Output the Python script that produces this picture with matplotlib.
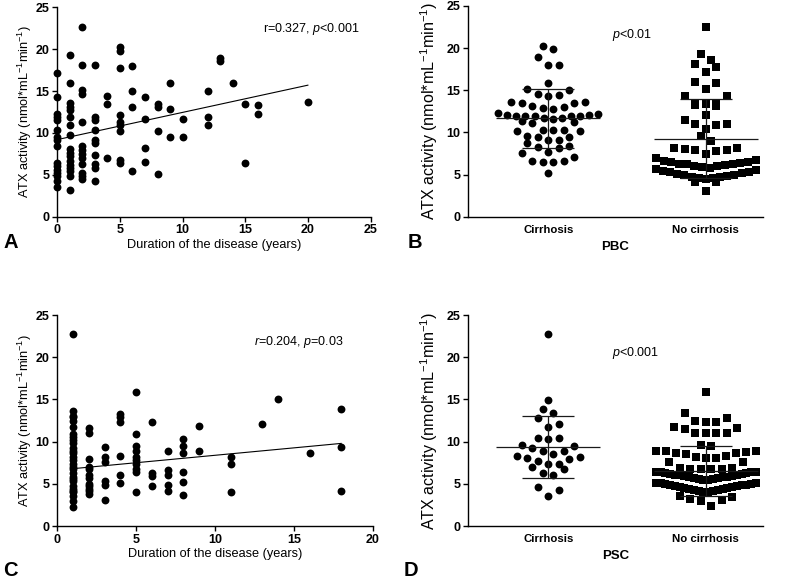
import matplotlib.pyplot as plt
import numpy as np

plt.rcParams['font.family'] = ['Liberation Sans', 'DejaVu Sans']
plt.rcParams['mathtext.fontset'] = 'custom'
plt.rcParams['mathtext.rm'] = 'Liberation Sans'
plt.rcParams['mathtext.it'] = 'Liberation Sans:italic'
plt.rcParams['mathtext.bf'] = 'Liberation Sans:bold'

# panel A: PBC, ATX activity vs duration of the disease
pbc_years = [0, 1, 2, 3, 4, 5, 6, 7, 8, 9, 10, 12, 13, 14, 15, 16, 20]
pbc_atx = [
    [17.2, 14.3, 12.2, 11.9, 11.5, 10.3, 9.55, 9.15, 8.45, 6.45, 6.05, 5.6, 5.2, 4.9, 4.2, 3.5],
    [19.3, 16.0, 13.6, 13.1, 12.7, 11.9, 10.9, 9.7, 8.1, 7.6, 7.2, 6.6, 6.2, 5.8, 5.4, 4.9, 3.2],
    [22.6, 18.1, 15.1, 14.6, 11.3, 8.4, 8.0, 7.5, 7.0, 6.25, 5.2, 4.8, 4.5],
    [18.1, 11.9, 11.6, 10.4, 9.2, 8.8, 7.4, 6.3, 5.8, 4.2],
    [14.4, 13.5, 7.0],
    [20.3, 19.8, 17.7, 12.1, 11.3, 10.9, 10.2, 6.8, 6.4],
    [18.0, 15.0, 13.1, 5.5],
    [14.3, 11.7, 8.2, 6.5],
    [13.5, 13.1, 10.2, 5.1],
    [15.9, 12.9, 9.5],
    [11.7, 9.5],
    [15.0, 11.9, 10.9],
    [19.0, 18.6],
    [15.9],
    [13.5, 6.4],
    [13.3, 12.3],
    [13.7],
]
pbc_fit = [9.2, 0.325]  # intercept, slope

# panel C: PSC, ATX activity vs duration of the disease
psc_years = [1, 2, 3, 4, 5, 6, 7, 8, 9, 11, 13, 14, 16, 18]
psc_atx = [
    [22.8, 13.6, 13.05, 12.9, 12.5, 11.7, 10.95, 10.55, 10.2, 9.85, 9.3, 8.9, 8.65, 8.2, 7.8,
     7.3, 7.0, 6.7, 6.3, 5.8, 5.6, 5.3, 4.8, 4.4, 4.2, 4.0, 3.6, 3.0, 2.2],
    [11.6, 11.0, 7.9, 7.0, 6.8, 6.0, 5.7, 5.0, 4.7, 4.4, 4.1, 3.8],
    [9.35, 8.2, 7.6, 5.3, 4.9, 3.1],
    [13.3, 12.9, 12.3, 8.25, 6.1, 5.1],
    [15.9, 10.9, 9.5, 8.9, 8.2, 7.8, 7.4, 6.8, 6.4, 4.0],
    [12.3, 6.3, 5.9, 4.7],
    [8.9, 6.6, 6.0, 4.9, 4.1],
    [10.3, 9.5, 8.6, 6.4, 5.2, 3.7],
    [11.9, 8.9],
    [8.2, 7.3, 4.0],
    [12.1],
    [15.0],
    [8.6],
    [13.9, 9.4, 4.2],
]
psc_fit = [6.62, 0.176]

# panel B: PBC, cirrhosis vs no cirrhosis
groups = ['Cirrhosis', 'No cirrhosis']
pbc_cirr = [5.2, 6.45, 6.5, 6.55, 6.6, 7.1, 7.6, 7.7, 8.2, 8.3, 8.4, 8.8, 9.1, 9.1, 9.5, 9.5,
            9.6, 10.2, 10.2, 10.3, 10.3, 10.3, 11.1, 11.2, 11.3, 11.6, 11.7, 11.7, 11.9, 12.0,
            12.0, 12.0, 12.0, 12.1, 12.1, 12.2, 12.3, 12.8, 12.9, 13.0, 13.1, 13.5, 13.5, 13.6,
            13.6, 14.3, 14.4, 14.6, 15.0, 15.1, 15.9, 18.0, 18.0, 18.9, 19.9, 20.3]
pbc_nocirr = [3.1, 4.1, 4.1, 4.45, 4.55, 4.6, 4.7, 4.75, 4.85, 4.9, 5.0, 5.05, 5.15, 5.25,
              5.35, 5.45, 5.55, 5.6, 5.8, 5.9, 6.0, 6.05, 6.1, 6.2, 6.25, 6.3, 6.35, 6.45,
              6.5, 6.65, 6.7, 6.95, 7.45, 7.85, 7.9, 7.95, 8.0, 8.1, 8.2, 8.95, 9.55, 10.35,
              10.9, 11.0, 11.0, 11.5, 12.1, 13.15, 13.2, 13.35, 13.4, 13.5, 14.3, 14.35,
              15.1, 15.9, 15.95, 17.2, 17.8, 18.1, 18.6, 19.3, 22.5]
pbc_mean = [11.65, 9.25]
pbc_sd = [3.55, 4.7]

# panel D: PSC, cirrhosis vs no cirrhosis
psc_cirr = [3.55, 4.3, 4.6, 6.1, 6.3, 6.7, 6.95, 7.3, 7.35, 7.7, 7.9, 8.1, 8.2, 8.3, 8.5,
            8.9, 8.9, 9.3, 9.5, 9.6, 10.3, 10.4, 10.4, 11.7, 12.1, 12.75, 13.4, 13.9, 14.9, 22.75]
psc_nocirr = [2.35, 2.95, 3.1, 3.2, 3.4, 3.5,
              4.0, 4.05, 4.12, 4.18, 4.22, 4.3, 4.36, 4.42, 4.5, 4.55, 4.6, 4.67, 4.7, 4.76,
              4.82, 4.85, 4.9, 4.96, 5.0, 5.05, 5.1, 5.15,
              5.45, 5.5, 5.54, 5.6, 5.66, 5.7, 5.75, 5.8, 5.86, 5.9, 5.95, 6.0, 6.04, 6.1,
              6.15, 6.2, 6.26, 6.3, 6.35, 6.4, 6.42, 6.45,
              6.7, 6.75, 6.8, 6.8, 6.85, 6.9, 7.55, 7.6,
              8.1, 8.1, 8.2, 8.3, 8.5, 8.65, 8.7, 8.8, 8.85, 8.9, 8.9,
              9.5, 9.65, 11.0, 11.0, 11.0, 11.0, 11.5, 11.65, 11.7,
              12.3, 12.3, 12.5, 12.8, 13.35, 15.85]
psc_mean = [9.35, 6.55]
psc_sd = [3.7, 2.95]

YLABEL = 'ATX activity (nmol*mL$^{-1}$min$^{-1}$)'


def style_axes(ax, ylabel_size, ylabel_pad):
    for side in ['top', 'right']:
        ax.spines[side].set_visible(False)
    for side in ['left', 'bottom']:
        ax.spines[side].set_linewidth(1.0)
    ax.set_ylim(0, 25)
    ax.set_yticks([0, 5, 10, 15, 20, 25])
    ax.tick_params(direction='out', length=3.5, width=1.0, labelsize=9, pad=2)
    ax.set_ylabel(YLABEL, fontsize=ylabel_size, labelpad=ylabel_pad)


def scatter_panel(ax, years, atx, fit, xmax, stat_text, pos):
    style_axes(ax, 9.2, 1.5)
    for yr, vals in zip(years, atx):
        ax.scatter([yr] * len(vals), vals, s=32, color='black', linewidths=0,
                   clip_on=False, zorder=3)
    xs = np.array([min(years), max(years)])
    ax.plot(xs, fit[0] + fit[1] * xs, color='black', lw=0.8, zorder=2)
    ax.set_xlim(0, xmax)
    ax.set_xticks(np.arange(0, xmax + 1, 5))
    ax.set_xlabel('Duration of the disease (years)', fontsize=9.2, labelpad=2)
    ax.text(pos[0], pos[1], stat_text, transform=ax.transAxes, fontsize=9, va='center')
    plt.setp(ax.get_xticklabels() + ax.get_yticklabels(), fontweight='bold')


def swarm(values, row_h, step_px, max_px):
    """simple row based dot layout, lowest values in the middle of a row"""
    vals = np.sort(np.asarray(values, float))
    offs = np.zeros(len(vals))
    i = 0
    while i < len(vals):
        j = i
        while j < len(vals) and vals[j] - vals[i] < row_h:
            j += 1
        n = j - i
        step = step_px if n < 2 else min(step_px, 2 * max_px / (n - 1))
        for k in range(n):
            if n % 2:
                slot = (k + 1) // 2 * (1 if k % 2 else -1)
            else:
                slot = (k // 2 + 0.5) * (1 if k % 2 == 0 else -1)
            offs[i + k] = slot * step
        i = j
    return vals, offs


def group_panel(fig, ax, series, mean, sd, xlabel, stat_text, pos):
    style_axes(ax, 11.6, 5)
    ax.set_xlim(-0.507, 1.36)
    px_per_unit = ax.get_position().width * fig.get_size_inches()[0] * fig.dpi / 1.867
    markers = ['o', 's']
    sizes = [32, 27]
    for i, vals in enumerate(series):
        yv, off = swarm(vals, 1.2, 10.5, 50)
        ax.scatter(i + off / px_per_unit, yv, marker=markers[i], s=sizes[i],
                   color='black', linewidths=0, zorder=3)
        half_mean = 52 / px_per_unit
        half_cap = 26 / px_per_unit
        lc = '#1a1a1a'
        ax.hlines(mean[i], i - half_mean, i + half_mean, color=lc, lw=0.9, zorder=4)
        ax.hlines([mean[i] - sd[i], mean[i] + sd[i]], i - half_cap, i + half_cap,
                  color=lc, lw=0.9, zorder=4)
        ax.vlines(i, mean[i] - sd[i], mean[i] + sd[i], color=lc, lw=0.9, zorder=4)
    ax.set_xticks([0, 1])
    ax.set_xticklabels(groups, fontsize=8.2)
    ax.tick_params(axis='x', length=0, pad=6)
    ax.set_xlabel(xlabel, fontsize=9.5, fontweight='bold', labelpad=4)
    ax.text(pos[0], pos[1], stat_text, transform=ax.transAxes, fontsize=9, va='center')
    plt.setp(ax.get_xticklabels() + ax.get_yticklabels(), fontweight='bold')


def main():
    fig = plt.figure(figsize=(7.87, 5.82), dpi=100)
    ax_a = fig.add_axes([0.0728, 0.6277, 0.398, 0.3598])
    ax_b = fig.add_axes([0.595, 0.6277, 0.374, 0.362])
    ax_c = fig.add_axes([0.0728, 0.0962, 0.4008, 0.3625])
    ax_d = fig.add_axes([0.595, 0.0962, 0.374, 0.3625])

    scatter_panel(ax_a, pbc_years, pbc_atx, pbc_fit, 25,
                  'r=0.327, $\\mathit{p}$<0.001', (0.656, 0.894))
    scatter_panel(ax_c, psc_years, psc_atx, psc_fit, 20,
                  '$\\mathit{r}$=0.204, $\\mathit{p}$=0.03', (0.624, 0.872))
    group_panel(fig, ax_b, [pbc_cirr, pbc_nocirr], pbc_mean, pbc_sd, 'PBC',
                '$\\mathit{p}$<0.01', (0.488, 0.864))
    group_panel(fig, ax_d, [psc_cirr, psc_nocirr], psc_mean, psc_sd, 'PSC',
                '$\\mathit{p}$<0.001', (0.488, 0.82))

    letters = {'A': (0.004, 0.574), 'B': (0.518, 0.574), 'C': (0.004, 0.01), 'D': (0.513, 0.01)}
    for name, (x, y) in letters.items():
        fig.text(x, y, name, fontsize=14.5, fontweight='bold', va='baseline')

    fig.savefig('out.png', dpi=100)


if __name__ == "__main__":
    main()
